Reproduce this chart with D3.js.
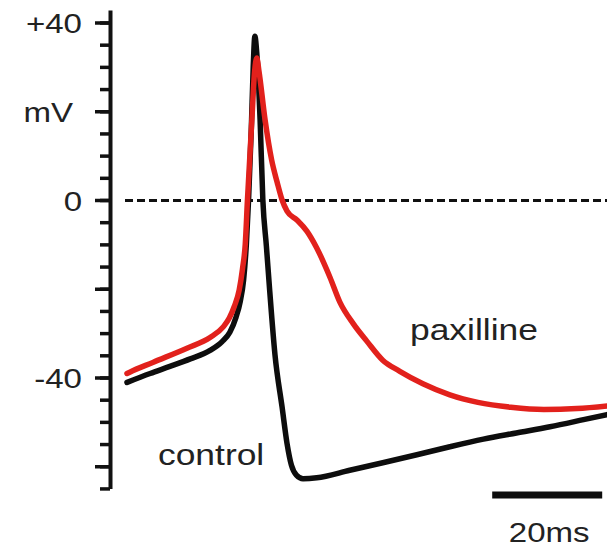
<!DOCTYPE html>
<html>
<head>
<meta charset="utf-8">
<script src="https://cdn.jsdelivr.net/npm/d3@7"></script>
<style>
  html, body { margin: 0; padding: 0; background: #fff; }
  svg { display: block; }
  text { font-family: "Liberation Sans", Arial, Helvetica, sans-serif; fill: #222; }
</style>
</head>
<body>
<svg id="chart" width="607" height="550"></svg>
<script>
// Membrane potential traces: [time (ms), voltage (mV)]
const controlTrace = [
  [0, -41.1], [4.2, -39.1], [7.8, -37.5], [11.5, -35.8], [15.1, -33.9],
  [17.3, -31.9], [18.7, -29.8], [19.8, -26.5], [20.6, -22.8], [21.2, -18.0],
  [21.7, -10.0], [22.1, 0], [22.6, 16.0], [22.95, 30.0], [23.25, 36.9],
  [23.6, 33.0], [24.2, 18.1], [24.7, 0], [25.35, -10.5], [25.95, -20.5],
  [26.9, -34.8], [28.2, -46.7], [29.1, -54.9], [29.9, -59.8], [30.8, -62.0],
  [32.0, -62.8], [34.5, -62.6], [40.5, -60.9], [46.5, -59.2], [52.7, -57.4],
  [58.7, -55.6], [64.8, -53.9], [70.8, -52.5], [76.9, -51.1], [83.0, -49.5],
  [87.5, -48.3]
];

const paxillineTrace = [
  [0, -39.1], [0.5, -38.8], [4.7, -36.6], [10.9, -33.4], [15.1, -31.0],
  [17.5, -28.6], [18.6, -26.6], [19.5, -24.0], [20.4, -20.3], [21.0, -15.5],
  [21.5, -10.0], [21.9, 0], [22.7, 18.0], [23.2, 29.0], [23.6, 32.0],
  [24.0, 29.0], [25.1, 18.1], [26.3, 9.0], [27.3, 4.0], [28.2, 0],
  [29.1, -2.5], [30.9, -4.5], [32.7, -7.0], [34.5, -10.8], [36.9, -17.4],
  [38.7, -23.0], [41.1, -27.8], [43.6, -31.8], [46.5, -36.1], [49.6, -38.6],
  [53.8, -41.4], [58.7, -43.9], [63.8, -45.6], [69.8, -46.7], [75.8, -47.2],
  [81.8, -47.0], [87.5, -46.4]
];

// Voltage axis
const axisDomain = [-65, 42.8];
const minorTicks = d3.range(-65, 41, 5);
const majorTicks = [40, 20, 0, -20, -40, -60];
const tickLabelValues = [40, 20, 0, -40];
const tickLabelText = ["+40", "mV", "0", "-40"];

// Scale bar
const scaleBarMs = 20;
const scaleBarLabel = "20ms";

const svg = d3.select("#chart");

const x = d3.scaleLinear().domain([0, 80]).range([127, 567]);
const y = d3.scaleLinear().domain([-40, 40]).range([377.5, 22.5]);
const axisX = 110;
const stretch = 1.18;

// Zero reference line
svg.append("line")
  .attr("x1", x(0) - 2).attr("x2", 607)
  .attr("y1", y(0) + 0.5).attr("y2", y(0) + 0.5)
  .attr("stroke", "#111").attr("stroke-width", 3)
  .attr("stroke-dasharray", "8,4");

// Axis: minor ticks, then major ticks with the domain line
const yAxisScale = y.copy().domain(axisDomain).range([y(axisDomain[0]), y(axisDomain[1])]);

const minorAxis = svg.append("g")
  .attr("transform", `translate(${axisX},0)`)
  .call(d3.axisLeft(yAxisScale).tickValues(minorTicks).tickSize(10).tickSizeOuter(0).tickFormat(""));
minorAxis.select(".domain").remove();
minorAxis.selectAll("line").attr("stroke", "#111").attr("stroke-width", 3.5);

const majorAxis = svg.append("g")
  .attr("transform", `translate(${axisX},0)`)
  .call(d3.axisLeft(yAxisScale).tickValues(majorTicks).tickSize(15).tickSizeOuter(0).tickFormat(""));
majorAxis.select(".domain").attr("stroke", "#111").attr("stroke-width", 4);
majorAxis.selectAll("line").attr("stroke", "#111").attr("stroke-width", 3.5);

// Tick labels
svg.append("g").selectAll("text")
  .data(tickLabelValues)
  .join("text")
  .attr("transform", (d, i) => {
    const right = tickLabelText[i] === "mV" ? 73 : 82;
    return `translate(${right},${y(d) + 10.5}) scale(${stretch},1)`;
  })
  .attr("text-anchor", "end")
  .attr("font-size", 28)
  .text((d, i) => tickLabelText[i]);

const line = d3.line()
  .x(d => x(d[0]))
  .y(d => y(d[1]))
  .curve(d3.curveMonotoneX);

svg.append("path")
  .datum(controlTrace)
  .attr("d", line)
  .attr("fill", "none")
  .attr("stroke", "#0d0d0d")
  .attr("stroke-width", 5.5)
  .attr("stroke-linejoin", "round")
  .attr("stroke-linecap", "round");

svg.append("path")
  .datum(paxillineTrace)
  .attr("d", line)
  .attr("fill", "none")
  .attr("stroke", "#e2211c")
  .attr("stroke-width", 5.5)
  .attr("stroke-linejoin", "round")
  .attr("stroke-linecap", "round");

// Trace labels
svg.append("text")
  .attr("transform", `translate(158,465) scale(${stretch},1)`)
  .attr("font-size", 30)
  .text("control");

svg.append("text")
  .attr("transform", `translate(410,340) scale(${stretch},1)`)
  .attr("font-size", 30)
  .text("paxilline");

// Time scale bar
const barStart = 66.4;
svg.append("line")
  .attr("x1", x(barStart)).attr("x2", x(barStart + scaleBarMs))
  .attr("y1", 495).attr("y2", 495)
  .attr("stroke", "#0d0d0d").attr("stroke-width", 7);

svg.append("text")
  .attr("transform", `translate(${(x(barStart) + x(barStart + scaleBarMs)) / 2 + 2},542) scale(${stretch},1)`)
  .attr("text-anchor", "middle")
  .attr("font-size", 28)
  .text(scaleBarLabel);
</script>
</body>
</html>
